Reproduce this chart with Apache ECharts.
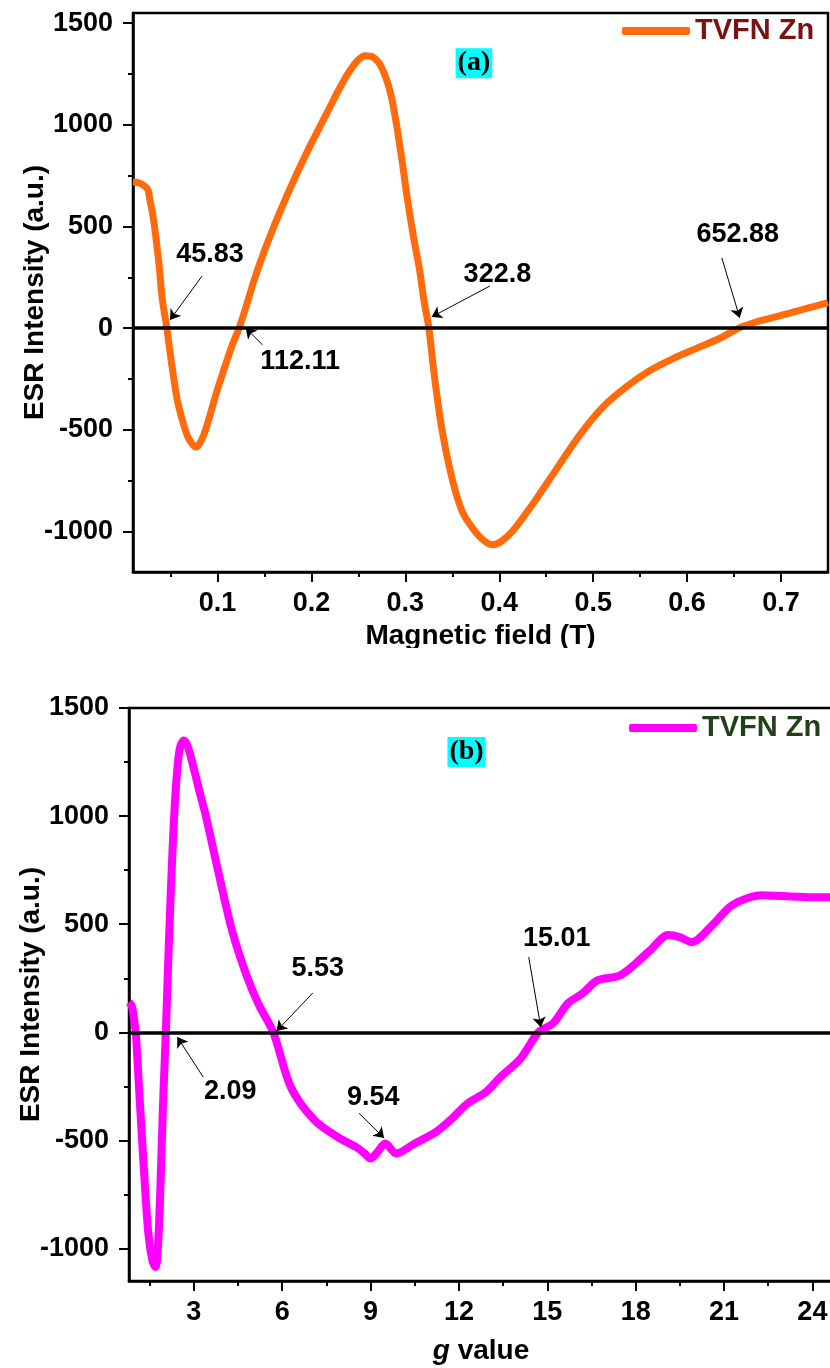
<!DOCTYPE html>
<html><head><meta charset="utf-8">
<script src="https://cdn.jsdelivr.net/npm/echarts@6/dist/echarts.min.js"></script>
<style>html,body{margin:0;padding:0;background:#fff}#c{width:830px;height:1368px}</style>
</head><body><div id="c"></div>
<script>
// ---------- Panel (a): ESR intensity vs magnetic field ----------
const fieldT = [0.010,0.016,0.022,0.026,0.028,0.031,0.034,0.038,0.041,0.046,0.051,0.057,0.063,0.068,0.073,0.077,0.080,0.085,0.090,0.095,0.100,0.105,0.110,0.116,0.123,0.130,0.140,0.150,0.160,0.170,0.180,0.190,0.200,0.210,0.220,0.230,0.240,0.250,0.257,0.265,0.275,0.285,0.295,0.302,0.309,0.315,0.320,0.325,0.331,0.339,0.350,0.361,0.375,0.385,0.393,0.402,0.414,0.435,0.460,0.485,0.510,0.535,0.560,0.585,0.610,0.635,0.655,0.670,0.690,0.710,0.730,0.750];
const intensityA = [720,715,700,680,630,560,460,300,150,0,-170,-350,-460,-530,-570,-585,-575,-530,-460,-380,-300,-230,-160,-80,0,100,250,380,500,610,715,815,910,1000,1090,1180,1260,1320,1340,1335,1280,1140,870,640,440,290,130,0,-240,-500,-745,-907,-1005,-1050,-1066,-1050,-1000,-870,-700,-530,-390,-290,-210,-150,-100,-50,0,25,50,75,100,125];

// ---------- Panel (b): ESR intensity vs g value ----------
const gValue = [0.8,0.9,0.97,1.03,1.15,1.3,1.45,1.6,1.7,1.78,1.87,1.95,2.05,2.15,2.28,2.4,2.52,2.66,2.8,3.0,3.2,3.41,3.82,4.3,4.8,5.2,5.7,6.3,7.1,7.9,8.5,8.8,9.0,9.2,9.5,9.87,10.5,11.2,11.7,12.3,12.9,13.4,14.1,14.7,15.2,15.7,16.2,16.7,17.5,18.5,19.1,19.5,19.9,20.6,21.3,22.3,23.0,24.0,24.7];
const intensityB = [140,120,60,0,-280,-620,-920,-1060,-1085,-1000,-700,-350,0,400,850,1150,1310,1350,1320,1220,1110,1000,750,470,260,130,0,-255,-407,-486,-530,-560,-583,-560,-514,-560,-514,-463,-407,-329,-278,-208,-120,0,42,134,180,240,265,380,450,440,417,495,590,634,630,625,625];

// ---------- Axis ticks ----------
const xTicksA = [0.1,0.2,0.3,0.4,0.5,0.6,0.7];
const xMinorA = [0.05,0.15,0.25,0.35,0.45,0.55,0.65];
const xTicksB = [3,6,9,12,15,18,21,24];
const xMinorB = [1.5,4.5,7.5,10.5,13.5,16.5,19.5,22.5];
const yTicks = [-1000,-500,0,500,1000,1500];
const yMinor = [-750,-250,250,750,1250];

// ---------- Annotations [x, y, text] and arrows [x1,y1,x2,y2] ----------
const notesA = [[0.092,360,'45.83'],[0.188,-167,'112.11'],[0.398,261,'322.8'],[0.654,458,'652.88']];
const arrowsA = [[0.0835,256,0.0494,40],[0.148,-83,0.130,0],[0.390,207,0.328,55],[0.637,345,0.656,50]];
const notesB = [[4.24,-276,'2.09'],[7.21,297,'5.53'],[9.09,-300,'9.54'],[15.32,436,'15.01']];
const arrowsB = [[3.32,-207,2.44,-22],[7.04,182,5.81,6],[8.61,-374,9.46,-489],[14.37,348,14.78,24]];
const tagA = [0.373,1303,'(a)'];
const tagB = [12.26,1296,'(b)'];

const FONT = '"Liberation Sans", Arial, sans-serif';
const zip = (a,b) => a.map((v,i)=>[v,b[i]]);

function mainX(grid, min, max, ticks, name, gap, fmt) {
  return {type:'value', gridIndex:grid, min, max, position:'bottom',
    axisLine:{show:true,onZero:false,lineStyle:{color:'#000',width:2.5}},
    axisTick:{show:true,inside:false,length:10,lineStyle:{color:'#000',width:2},customValues:ticks},
    axisLabel:{show:true,customValues:ticks,margin:18,fontSize:27,fontWeight:'bold',color:'#000',fontFamily:FONT,formatter:fmt},
    splitLine:{show:false},
    name, nameLocation:'middle', nameGap:gap, nameMoveOverlap:false,
    nameTextStyle:{fontSize:28,fontWeight:'bold',color:'#000',fontFamily:FONT,
      rich:{i:{fontSize:28,fontWeight:'bold',fontStyle:'italic',color:'#000',fontFamily:FONT}}}};
}
function minorX(grid, min, max, ticks) {
  return {type:'value', gridIndex:grid, min, max, position:'bottom',
    axisLine:{show:false,onZero:false},
    axisTick:{show:true,inside:false,length:5,lineStyle:{color:'#000',width:2},customValues:ticks},
    axisLabel:{show:false}, splitLine:{show:false}};
}
function mainY(grid, min, max) {
  return {type:'value', gridIndex:grid, min, max, position:'left',
    axisLine:{show:true,onZero:false,lineStyle:{color:'#000',width:2.5}},
    axisTick:{show:true,inside:false,length:10,lineStyle:{color:'#000',width:2},customValues:yTicks},
    axisLabel:{show:true,customValues:yTicks,margin:20,fontSize:27,fontWeight:'bold',color:'#000',fontFamily:FONT,formatter:v=>String(v)},
    splitLine:{show:false},
    name:'ESR Intensity (a.u.)', nameLocation:'middle', nameGap:84, nameRotate:90, nameMoveOverlap:false,
    nameTextStyle:{fontSize:28,fontWeight:'bold',color:'#000',fontFamily:FONT}};
}
function minorY(grid, min, max) {
  return {type:'value', gridIndex:grid, min, max, position:'left',
    axisLine:{show:false,onZero:false},
    axisTick:{show:true,inside:false,length:5,lineStyle:{color:'#000',width:2},customValues:yMinor},
    axisLabel:{show:false}, splitLine:{show:false}};
}
function noteSeries(xi, yi, notes, arrows, tag) {
  const data = notes.map(n => ({value:n}));
  data.push({value:tag, label:{fontFamily:'"Liberation Serif","Times New Roman",serif',fontSize:28,fontWeight:'bold',
    color:'#000',backgroundColor:'#00ffff',padding:[2,2,0,2]}});
  return {type:'scatter', xAxisIndex:xi, yAxisIndex:yi, symbolSize:1, silent:true,
    itemStyle:{color:'rgba(0,0,0,0)'}, z:5,
    label:{show:true, position:['50%','50%'], align:'center', verticalAlign:'middle',
      formatter:p=>p.value[2], fontSize:27, fontWeight:'bold', color:'#000', opacity:1, fontFamily:FONT},
    data,
    markLine:{silent:true, symbol:['none','arrow'], symbolSize:10, label:{show:false},
      lineStyle:{color:'#000',width:1,type:'solid'},
      data: arrows.map(a => [{coord:[a[0],a[1]]},{coord:[a[2],a[3]]}])}};
}
function curve(name, xi, yi, data, color, width) {
  return {name, type:'line', xAxisIndex:xi, yAxisIndex:yi, data, showSymbol:false, smooth:0.3,
    lineStyle:{color, width}, itemStyle:{color}, z:2,
    markLine:{silent:true, symbol:'none', label:{show:false},
      lineStyle:{color:'#000',width:3.5,type:'solid'}, data:[{yAxis:0}]}};
}

const chart = echarts.init(document.getElementById('c'), null, {renderer:'canvas'});
chart.setOption({
  backgroundColor:'#fff',
  animation:false,
  grid:[
    {left:133, top:13, right:2, bottom:796, show:true, borderColor:'#000', borderWidth:2.5, containLabel:false, outerBoundsMode:'none'},
    {left:129, top:708, right:-3, bottom:87, show:true, borderColor:'#000', borderWidth:2.5, containLabel:false, outerBoundsMode:'none'}
  ],
  legend:[
    {data:['TVFN Zn (a)'], left:617, top:11, icon:'roundRect', itemWidth:68, itemHeight:8, selectedMode:false,
     formatter:()=>'TVFN Zn', textStyle:{color:'#7a1212',fontSize:29,fontWeight:'bold',fontFamily:FONT,lineHeight:30}},
    {data:['TVFN Zn (b)'], left:624, top:708, icon:'roundRect', itemWidth:68, itemHeight:8, selectedMode:false,
     formatter:()=>'TVFN Zn', textStyle:{color:'#22401a',fontSize:29,fontWeight:'bold',fontFamily:FONT,lineHeight:30}}
  ],
  xAxis:[
    mainX(0, 0.01, 0.75, xTicksA, 'Magnetic field (T)', 50, v=>v.toFixed(1)),
    minorX(0, 0.01, 0.75, xMinorA),
    mainX(1, 0.8, 24.7, xTicksB, '{i|g} value', 56, v=>String(v)),
    minorX(1, 0.8, 24.7, xMinorB)
  ],
  yAxis:[
    mainY(0, -1200, 1550), minorY(0, -1200, 1550),
    mainY(1, -1150, 1500), minorY(1, -1150, 1500)
  ],
  series:[
    curve('TVFN Zn (a)', 0, 0, zip(fieldT, intensityA), '#ff6a0d', 7),
    noteSeries(0, 0, notesA, arrowsA, tagA),
    curve('TVFN Zn (b)', 2, 2, zip(gValue, intensityB), '#ff00ff', 8),
    noteSeries(2, 2, notesB, arrowsB, tagB)
  ],
  graphic:[{type:'rect', left:0, top:648, shape:{width:830,height:40}, style:{fill:'#fff'}, z:100}]
});
</script></body></html>
